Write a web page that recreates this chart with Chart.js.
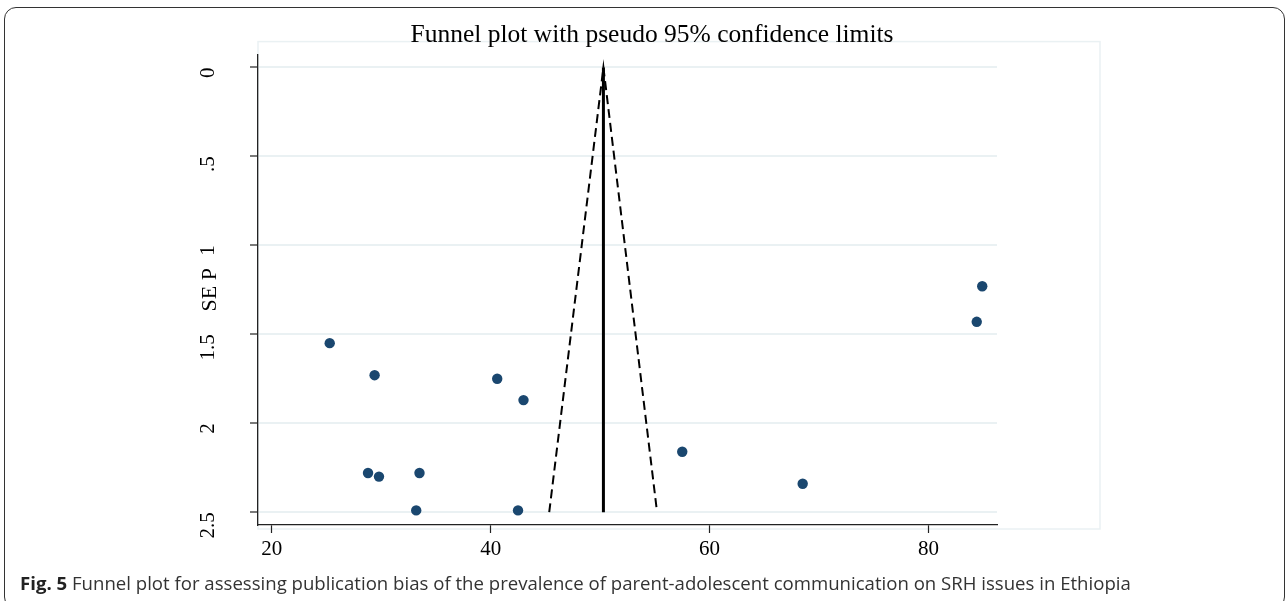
<!DOCTYPE html>
<html>
<head>
<meta charset="utf-8">
<script src="https://cdn.jsdelivr.net/npm/chart.js@4"></script>
<style>
  html, body { margin: 0; padding: 0; background: #fff; }
  body { width: 1288px; height: 601px; position: relative; overflow: hidden; }
  #frame { position: absolute; left: 4px; top: 7px; width: 1279px; height: 600px;
           border: 1.5px solid #333; border-radius: 12px; }
  #chart-wrap { position: absolute; left: 0; top: 0; width: 1288px; height: 601px; }
  #title { position: absolute; top: 19px; left: 0; width: 1304px; text-align: center;
           font-family: "Liberation Serif", "Times New Roman", serif; font-size: 25.5px; color: #000; }
  #caption { position: absolute; left: 20px; top: 570px; font-family: "Open Sans", sans-serif;
             font-size: 18.6px; color: #333; white-space: nowrap; }
  #caption b { color: #222; }
</style>
</head>
<body>
<div id="frame"></div>
<div id="chart-wrap"><canvas id="funnel"></canvas></div>
<div id="title">Funnel plot with pseudo 95% confidence limits</div>
<div id="caption"><b>Fig. 5</b> Funnel plot for assessing publication bias of the prevalence of parent-adolescent communication on SRH issues in Ethiopia</div>

<script>
// study estimates (prevalence %) and their standard errors
const prevalence = [25.3, 29.4, 28.8, 29.8, 33.5, 33.2, 40.6, 43.0, 42.5, 57.5, 68.5, 84.9, 84.4];
const seP        = [1.55, 1.73, 2.28, 2.30, 2.28, 2.49, 1.75, 1.87, 2.49, 2.16, 2.34, 1.23, 1.43];

// pooled estimate and pseudo 95% limits
const pooled = 50.3;
const limitSE = [2.5, 0, 2.5];
const limitX = [45.35, 50.3, 55.2];

const xTicks = [20, 40, 60, 80];
const yTicks = [0, 0.5, 1, 1.5, 2, 2.5];

const serif = "'Liberation Serif', 'Times New Roman', serif";

// faint Stata plot-region outline
const regionBox = {
  id: "regionBox",
  beforeDraw(chart) {
    const { ctx, chartArea } = chart;
    ctx.save();
    ctx.strokeStyle = "#eaf1f3";
    ctx.lineWidth = 1.5;
    ctx.strokeRect(chartArea.left, chartArea.top - 13, 1100 - chartArea.left, chartArea.bottom + 4 - (chartArea.top - 13));
    ctx.restore();
  }
};

const ctx = document.getElementById("funnel").getContext("2d");
new Chart(ctx, {
  type: "scatter",
  data: {
    datasets: [
      {
        label: "studies",
        data: prevalence.map((p, i) => ({ x: p, y: seP[i] })),
        backgroundColor: "#1a476f",
        borderWidth: 0,
        pointRadius: 5.2,
        clip: false
      },
      {
        label: "pooled",
        data: [{ x: pooled, y: 0 }, { x: pooled, y: 2.5 }],
        showLine: true,
        borderColor: "#000",
        borderWidth: 3,
        pointRadius: 0
      },
      {
        label: "limits",
        data: limitX.map((x, i) => ({ x: x, y: limitSE[i] })),
        showLine: true,
        borderColor: "#000",
        borderWidth: 2,
        borderDash: [9, 5],
        pointRadius: 0
      }
    ]
  },
  options: {
    responsive: true,
    maintainAspectRatio: false,
    animation: false,
    layout: { padding: { left: 197, right: 291, top: 50, bottom: 36 } },
    plugins: { legend: { display: false }, tooltip: { enabled: false } },
    scales: {
      x: {
        type: "linear",
        min: 18.75,
        max: 86.25,
        afterBuildTicks: s => { s.ticks = xTicks.map(v => ({ value: v })); },
        afterFit: s => { s.height = 40; },
        border: { display: true, color: "#222", width: 1.3 },
        grid: { drawOnChartArea: false, tickColor: "#222", tickLength: 8, tickWidth: 1.2 },
        ticks: { color: "#000", font: { family: serif, size: 21 }, padding: 4, maxRotation: 0 }
      },
      y: {
        type: "linear",
        reverse: true,
        min: -0.072,
        max: 2.572,
        afterBuildTicks: s => { s.ticks = yTicks.map(v => ({ value: v })); },
        afterFit: s => { s.width = 61; },
        border: { display: true, color: "#222", width: 1.3 },
        grid: { color: "#eaf1f3", lineWidth: 2, tickColor: "#222", tickLength: 8, tickWidth: 1.2 },
        ticks: {
          color: "#000",
          font: { family: serif, size: 21 },
          padding: 42,
          minRotation: 90,
          maxRotation: 90,
          callback: v => (v === 0 ? "0" : String(v).replace(/^0\./, "."))
        },
        title: { display: true, text: "SE P", color: "#000", font: { family: serif, size: 22 }, padding: 0 }
      }
    }
  },
  plugins: [regionBox]
});
</script>
</body>
</html>
